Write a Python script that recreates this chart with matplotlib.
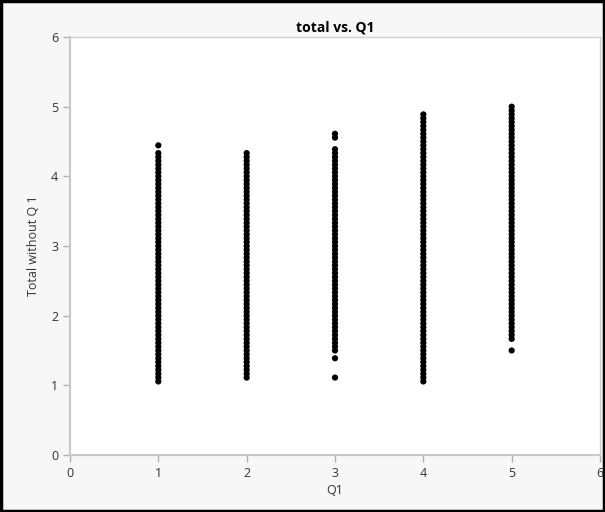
import matplotlib
matplotlib.use("Agg")
import matplotlib.pyplot as plt
import numpy as np

# Q1 answer -> runs of "Total without Q 1" levels (in 1/18 steps)
q1_levels = [1, 2, 3, 4, 5]
runs = {
    1: [(19, 78), (80, 80)],
    2: [(20, 78)],
    3: [(20, 20), (25, 25), (27, 79), (82, 83)],
    4: [(19, 88)],
    5: [(27, 27), (30, 90)],
}
step = 1 / 18

xs, ys = [], []
for q in q1_levels:
    for lo, hi in runs[q]:
        for k in range(lo, hi + 1):
            xs.append(q)
            ys.append(k * step)

plt.rcParams['font.family'] = ['Open Sans', 'DejaVu Sans']

fig = plt.figure(figsize=(6.05, 5.12), dpi=100)
fig.patch.set_facecolor('#f7f7f7')
ax = fig.add_axes([70 / 605, 1 - 455 / 512, 530 / 605, 418 / 512])
ax.set_facecolor('white')

ax.scatter(xs, ys, s=20, c='black', edgecolors='none', zorder=3)

ax.set_xlim(0, 6)
ax.set_ylim(0, 6)
ax.set_xticks(range(7))
ax.set_yticks(range(7))
for side in ['top', 'right']:
    ax.spines[side].set_color('#d0d0d0')
    ax.spines[side].set_linewidth(1)
for side in ['left', 'bottom']:
    ax.spines[side].set_color('#c8c8c8')
    ax.spines[side].set_linewidth(1.5)
ax.tick_params(colors='#b0b0b0', labelcolor='#333333', labelsize=9, length=5, width=1)

ax.set_title('total vs. Q1', fontsize=10, fontweight='bold', pad=4)
ax.set_xlabel('Q1', fontsize=9, color='#333333', labelpad=3)
ax.set_ylabel('Total without Q 1', fontsize=9, color='#333333', labelpad=8)

fig.patches.append(plt.Rectangle((0.002, 0.002), 0.996, 0.996, transform=fig.transFigure,
                                 fill=False, edgecolor='black', linewidth=2.5))

fig.savefig('out.png', dpi=100, facecolor=fig.get_facecolor())
